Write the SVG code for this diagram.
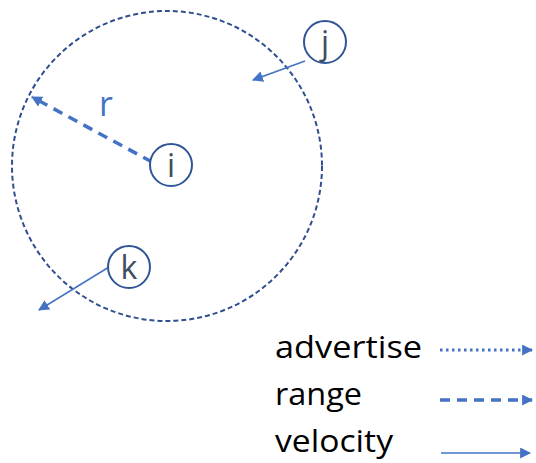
<svg xmlns="http://www.w3.org/2000/svg" width="536" height="463" viewBox="0 0 536 463">
<style>
.node{fill:#fff;stroke:#2f5597;stroke-width:2}
.lbl{font-family:"Open Sans","Liberation Sans",sans-serif;font-size:32px;fill:#3f4d60;text-anchor:middle}
.leg{font-family:"Open Sans","Liberation Sans",sans-serif;font-size:31px;fill:#000}
.vel{stroke:#4472c4;stroke-width:1.5;fill:none}
.rng{stroke:#4472c4;stroke-width:3.5;fill:none;stroke-dasharray:10 7}
.adv{stroke:#4472c4;stroke-width:3;fill:none;stroke-dasharray:2.5 3.5}
</style>
<defs>
<marker id="ah" viewBox="0 0 10 10" refX="9" refY="5" markerWidth="11" markerHeight="11" markerUnits="userSpaceOnUse" orient="auto">
<path d="M0,0 L10,5 L0,10 z" fill="#4472c4"/>
</marker>
</defs>
<g id="range-circle">
<circle cx="167" cy="166" r="155" fill="none" stroke="#2f4f8f" stroke-width="2" stroke-dasharray="5 3"/>
</g>
<g id="connectors">
<line class="rng" x1="152" y1="162" x2="32" y2="97" marker-end="url(#ah)" stroke-dasharray="11 8"/>
<line class="vel" x1="305" y1="61" x2="253" y2="80" marker-end="url(#ah)"/>
<line class="vel" x1="109" y1="267" x2="39" y2="310" marker-end="url(#ah)"/>
</g>
<text x="106" y="116" font-family="Open Sans,Liberation Sans,sans-serif" font-size="34" fill="#4472c4" text-anchor="middle">r</text>
<g id="node-i">
<circle class="node" cx="171" cy="165" r="21"/>
<text class="lbl" x="171" y="177">i</text>
</g>
<g id="node-j">
<circle class="node" cx="325" cy="42" r="21"/>
<text class="lbl" x="325" y="54">j</text>
</g>
<g id="node-k">
<circle class="node" cx="129" cy="267" r="21"/>
<text class="lbl" x="129" y="279">k</text>
</g>
<g id="legend">
<text class="leg" x="275" y="358" textLength="147" lengthAdjust="spacingAndGlyphs">advertise</text>
<text class="leg" x="275" y="405" textLength="87" lengthAdjust="spacingAndGlyphs">range</text>
<text class="leg" x="275" y="452" textLength="118" lengthAdjust="spacingAndGlyphs">velocity</text>
<line class="adv" x1="440" y1="350" x2="532" y2="350" marker-end="url(#ah)"/>
<line class="rng" x1="440" y1="400" x2="532" y2="400" marker-end="url(#ah)" stroke-dasharray="12 8"/>
<line class="vel" x1="441" y1="453" x2="530" y2="453" marker-end="url(#ah)"/>
</g>
</svg>
